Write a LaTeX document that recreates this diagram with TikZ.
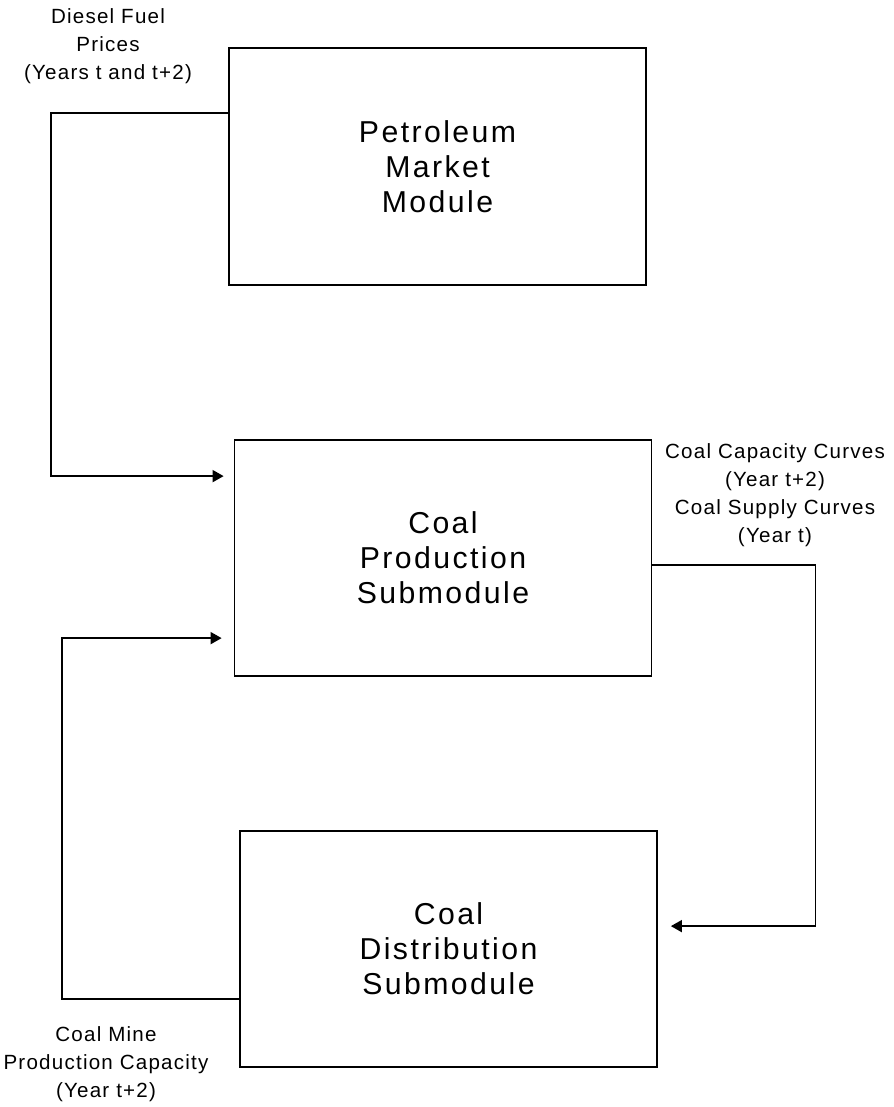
\documentclass[tikz,border=0pt]{standalone}
\usepackage{fontspec}
\setmainfont{Liberation Sans}
\newfontfamily\boxfont{Liberation Sans}[LetterSpace=8]
\newfontfamily\labelfont{Liberation Sans}[LetterSpace=6]
\usetikzlibrary{arrows.meta}

\begin{document}
\begin{tikzpicture}[
  module/.style={draw, line width=1pt, minimum width=8.34cm, minimum height=4.72cm, align=center, font=\boxfont\fontsize{17.2}{19.9}\selectfont},
  lbl/.style={align=center, font=\labelfont\fontsize{11.7}{15.9}\selectfont},
  flow/.style={line width=0.9pt, -{Triangle[length=0.22cm,width=0.24cm]}}]
\useasboundingbox (0,0) rectangle (17.86,22.14);
\coordinate (p) at (8.75,18.81);
\coordinate (q) at (8.86,10.98);
\coordinate (r) at (8.97,3.16);
% draws modules
\node[module, minimum height=4.74cm] (pmm) at (p) {Petroleum\\Market\\Module};
\node[module] (cps) at (q) {Coal\\Production\\Submodule};
\node[module] (cds) at (r) {Coal\\Distribution\\Submodule};
% labels connectors
\node[lbl] (diesel) at (2.16,21.22) {Diesel Fuel\\Prices\\(Years t and t+2)};
\node[lbl] (curves) at (15.5,12.24) {Coal Capacity Curves\\(Year t+2)\\Coal Supply Curves\\(Year t)};
\node[lbl] (minecap) at (2.12,0.86) {Coal Mine\\Production Capacity\\(Year t+2)};
% draws connectors
\draw[flow] ([yshift=-1.32cm]pmm.north west) -- ++(-3.54,0) |- ([xshift=-0.2cm,yshift=-0.74cm]cps.north west);
\draw[flow] ([yshift=-2.52cm]cps.north east) -- ++(3.26,0) |- ([xshift=0.26cm,yshift=-1.92cm]cds.north east);
\draw[flow] ([yshift=-3.38cm]cds.north west) -- ++(-3.54,0) |- ([xshift=-0.24cm,yshift=-3.98cm]cps.north west);
\end{tikzpicture}
\end{document}
